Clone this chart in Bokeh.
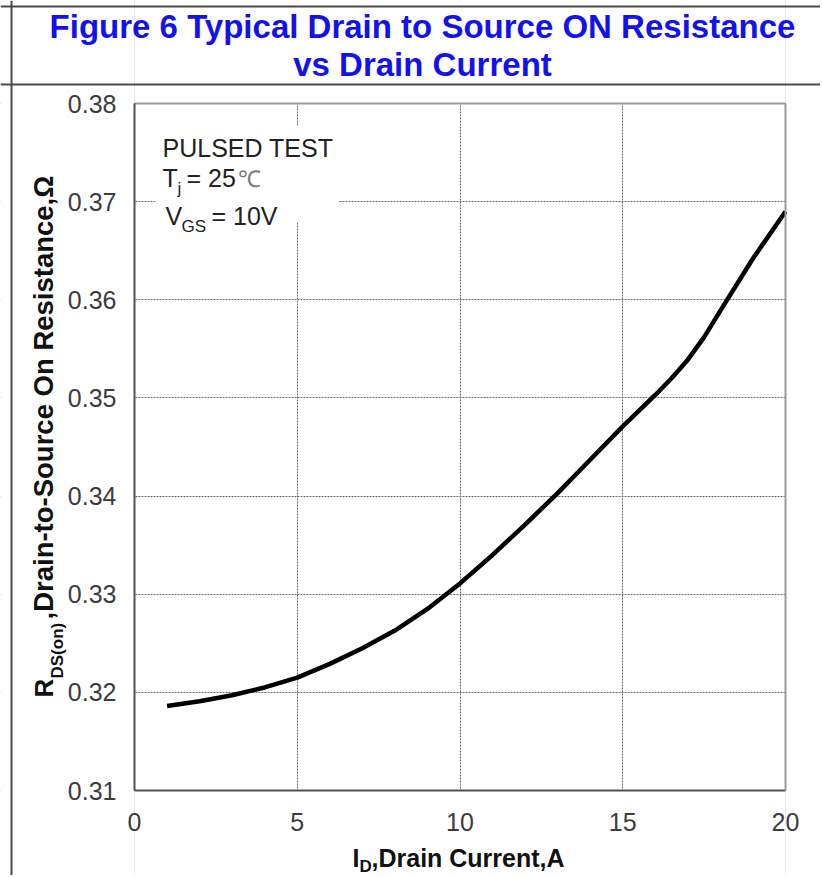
import numpy as np
from bokeh.plotting import figure
from bokeh.models import (Range1d, FixedTicker, NumeralTickFormatter, Label, BoxAnnotation,
                          Span, LinearAxis)
from bokeh.embed import file_html
from bokeh.resources import INLINE

# ---- data ----
drain_current = [1, 2, 3, 4, 5, 6, 7, 8, 9, 10, 11, 12, 13, 14, 15, 16, 16.5, 17, 17.5,
                 18, 19, 20]
rds_on = [0.3186, 0.3191, 0.3197, 0.3205, 0.3215, 0.3229, 0.3245, 0.3263, 0.3285, 0.3311,
          0.3340, 0.3371, 0.3403, 0.3437, 0.3471, 0.3503, 0.3520, 0.3539, 0.3562,
          0.3589, 0.3642, 0.3690]
x_ticks = [0, 5, 10, 15, 20]
y_ticks = [0.31, 0.32, 0.33, 0.34, 0.35, 0.36, 0.37, 0.38]
x_lim = (0, 20)
y_lim = (0.31, 0.38)

title_line1 = "Figure 6 Typical Drain to Source ON Resistance"
title_line2 = "vs Drain Current"

FONT = "Liberation Sans"
W, H = 820, 875
# pixel geometry of the plotting rectangle on the page
PX0, PX1 = 134, 785     # x = 0 .. 20
PY0, PY1 = 790, 103     # y = 0.31 .. 0.38
sx = (x_lim[1] - x_lim[0]) / (PX1 - PX0)
sy = (y_lim[1] - y_lim[0]) / (PY0 - PY1)


def dx(px):
    return x_lim[0] + (px - PX0) * sx


def dy(py):
    return y_lim[0] + (PY0 - py) * sy


p = figure(width=W, height=H, output_backend="svg", toolbar_location=None, title=None,
           x_range=Range1d(dx(0), dx(W)), y_range=Range1d(dy(H), dy(0)),
           x_axis_location=None, y_axis_location=None,
           min_border=0, min_border_left=0, min_border_right=0,
           min_border_top=0, min_border_bottom=0)
p.background_fill_color = "white"
p.border_fill_color = "white"
p.outline_line_color = None

# grid
p.xgrid.ticker = FixedTicker(ticks=x_ticks)
p.ygrid.ticker = FixedTicker(ticks=y_ticks)
for g in (p.xgrid[0], p.ygrid[0]):
    g.grid_line_color = "#6a6a6a"
    g.grid_line_dash = "2 1"
    g.grid_line_width = 1

# white masks so grid lines stay inside the plotting rectangle
for kw in (dict(right=x_lim[0]), dict(left=x_lim[1]),
           dict(left=x_lim[0], right=x_lim[1], bottom=y_lim[1]),
           dict(left=x_lim[0], right=x_lim[1], top=y_lim[0])):
    p.add_layout(BoxAnnotation(fill_color="white", fill_alpha=1.0, line_color=None,
                               level="underlay", **kw))


def make_axis(side, loc, bounds, ticks, show_labels, color):
    ax = LinearAxis(fixed_location=loc, bounds=bounds, ticker=FixedTicker(ticks=ticks))
    ax.major_tick_line_color = None
    ax.minor_tick_line_color = None
    ax.axis_line_color = color
    ax.axis_line_width = 2
    ax.major_label_text_font = FONT
    ax.major_label_text_font_size = "25px" if show_labels else "0px"
    ax.major_label_text_color = "#3c3c3c"
    p.add_layout(ax, side)
    return ax


xa = make_axis("below", y_lim[0], x_lim, x_ticks, True, "#505050")
xa.major_label_standoff = 16
ya = make_axis("left", x_lim[0], y_lim, y_ticks, True, "#505050")
ya.major_label_standoff = 12
ya.formatter = NumeralTickFormatter(format="0.00")
make_axis("above", y_lim[1], x_lim, [], False, "#9a9a9a")
make_axis("right", x_lim[1], y_lim, [], False, "#9a9a9a")

# curve
p.line(drain_current, rds_on, line_color="black", line_width=4.5)

# white box behind annotation text
p.add_layout(BoxAnnotation(left=dx(155), right=dx(338), bottom=dy(222), top=dy(125),
                           fill_color="white", fill_alpha=1.0, line_color=None))

BASE_SHIFT = 0.38   # baseline correction, fraction of font size


def lab(px, py, text, size, style="normal", color="#222222", angle=0.0, align="left"):
    shift = BASE_SHIFT * size
    if angle:
        px = px - shift
    else:
        py = py - shift
    p.add_layout(Label(x=dx(px), y=dy(py), text=text, text_font=FONT,
                       text_font_size=f"{size}px", text_font_style=style, text_color=color,
                       text_align=align, text_baseline="alphabetic", angle=angle))


# chart title
lab(422, 39, title_line1, 33, "bold", "#1212EE", align="center")
lab(422, 77, title_line2, 33, "bold", "#1212EE", align="center")

# annotation text
lab(162, 157, "PULSED TEST", 25)
lab(162, 187, "T", 25)
lab(177, 194, "j", 17)
lab(186, 187, "= 25", 25)
lab(237, 187, "\u2103", 23, color="#7a7a7a")
lab(165, 225, "V", 25)
lab(181, 232, "GS", 17)
lab(211, 225, "= 10V", 25)

# x axis title
lab(352, 867, "I", 25, "bold", "#111111")
lab(359, 872, "D", 17, "bold", "#111111")
lab(371, 867, ",Drain Current,A", 25, "bold", "#111111")

# y axis title (rotated)
lab(53, 697, "R", 26, "bold", "#111111", np.pi / 2)
lab(63, 678, "DS(on)", 17, "bold", "#111111", np.pi / 2)
lab(53, 619, ",Drain-to-Source On Resistance,\u03a9", 27.5, "bold", "#111111", np.pi / 2)

# table border lines
for py in (6, 84):
    p.add_layout(Span(location=dy(py), dimension="width", line_color="#4a4a4a", line_width=2))
p.add_layout(Span(location=dx(11), dimension="height", line_color="#4a4a4a", line_width=2))

open("out.html", "w").write(file_html(p, INLINE))
